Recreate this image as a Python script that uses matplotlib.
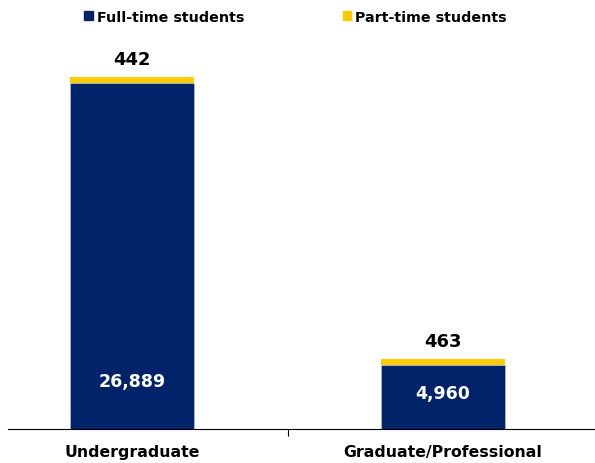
import matplotlib
matplotlib.use('Agg')
import matplotlib.pyplot as plt
from matplotlib.patches import Patch

categories = ['Undergraduate', 'Graduate/Professional']
full_time = [26889, 4960]
part_time = [442, 463]
series_names = ['Full-time students', 'Part-time students']

navy = '#00236A'
gold = '#FFCC00'

plt.rcParams['font.family'] = ['DejaVu Sans']
plt.rcParams['font.weight'] = 'bold'

fig = plt.figure(figsize=(5.95, 4.64), dpi=100)
ax = fig.add_axes([8 / 595, 1 - 430 / 464, 587 / 595, 390 / 464])

x = list(range(len(categories)))
ax.bar(x, full_time, width=0.4, color=navy, edgecolor='#c8cbd6', linewidth=0.4)
ax.bar(x, part_time, width=0.4, bottom=full_time, color=gold, linewidth=0)

ax.set_xlim(-0.40, 1.49)
ax.set_ylim(0, 30300)

# labels inside the navy bars
inner_y = [3730, 2800]
for i in x:
    ax.text(i, inner_y[i], f'{full_time[i]:,}', color='white', ha='center',
            va='center', fontsize=12.5, fontweight='bold')
    ax.annotate(f'{part_time[i]:,}', (i, full_time[i] + part_time[i]),
                xytext=(0, 18), textcoords='offset pixels', ha='center',
                va='center', fontsize=13, fontweight='bold', color='black')

for s in ['top', 'left', 'right']:
    ax.spines[s].set_visible(False)
ax.spines['bottom'].set_linewidth(0.8)
ax.set_yticks([])
ax.set_xticks(x)
ax.set_xticklabels(categories, fontsize=11.3, fontweight='bold')
ax.tick_params(axis='x', which='major', length=0, pad=11)
ax.set_xticks([0.5], minor=True)
ax.tick_params(axis='x', which='minor', length=5, width=0.8, direction='out')

handles = [Patch(color=navy), Patch(color=gold)]
fig.legend(handles, series_names, loc='center', bbox_to_anchor=(0.497, 1 - 18 / 464),
           ncol=2, frameon=False, handlelength=0.6, handleheight=0.6,
           handletextpad=0.3, columnspacing=6.85, prop={'weight': 'bold', 'size': 10.3})

fig.savefig('out.png', dpi=100)
